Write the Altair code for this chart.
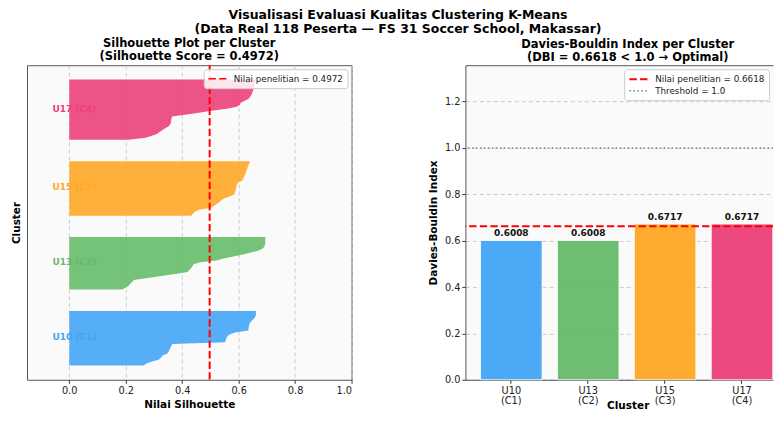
import altair as alt
import pandas as pd

# ---------------- data ----------------
clusters = ["U10 (C1)", "U13 (C2)", "U15 (C3)", "U17 (C4)"]
colors = ["#42A5F5", "#66BB6A", "#FFA726", "#EC407A"]

sil_c1 = [0.264, 0.273, 0.293, 0.316, 0.325, 0.329, 0.346, 0.352, 0.354, 0.358,
          0.361, 0.365, 0.552, 0.554, 0.556, 0.560, 0.569, 0.587, 0.634, 0.635,
          0.636, 0.638, 0.640, 0.647, 0.654, 0.659, 0.661, 0.661, 0.661]
sil_c2 = [0.187, 0.200, 0.210, 0.216, 0.223, 0.229, 0.278, 0.326, 0.375, 0.419,
          0.424, 0.431, 0.436, 0.440, 0.464, 0.522, 0.546, 0.581, 0.614, 0.640,
          0.669, 0.684, 0.691, 0.693, 0.694, 0.694, 0.694, 0.695]
sil_c3 = [0.432, 0.437, 0.445, 0.460, 0.500, 0.512, 0.522, 0.532, 0.540, 0.550,
          0.570, 0.585, 0.587, 0.589, 0.590, 0.592, 0.594, 0.598, 0.612, 0.616,
          0.619, 0.622, 0.625, 0.627, 0.630, 0.632, 0.635, 0.638, 0.640]
sil_c4 = [0.210, 0.270, 0.290, 0.310, 0.320, 0.330, 0.340, 0.352, 0.358, 0.360,
          0.361, 0.362, 0.364, 0.416, 0.464, 0.510, 0.558, 0.593, 0.605, 0.607,
          0.620, 0.634, 0.640, 0.645, 0.648, 0.650, 0.653, 0.655, 0.657, 0.658,
          0.660, 0.662]
sil_values = [sil_c1, sil_c2, sil_c3, sil_c4]

dbi_values = [0.6008, 0.6008, 0.6717, 0.6717]
sil_score = 0.4972
dbi_score = 0.6618
dbi_threshold = 1.0

sil_tick_values = [0.0, 0.2, 0.4, 0.6, 0.8, 1.0]
dbi_tick_values = [0.0, 0.2, 0.4, 0.6, 0.8, 1.0, 1.2]

FONT = "DejaVu Sans"
SPINE = "#555555"
PH = 315

# ---------------- build tables ----------------
rows, label_rows = [], []
y_lower = 10
for name, vals in zip(clusters, sil_values):
    svals = sorted(vals)
    for j, v in enumerate(svals):
        rows.append({"cluster": name, "pos": y_lower + j, "sil": v, "base": 0.0})
    label_rows.append({"cluster": name, "pos": y_lower + 0.5 * len(svals), "x": -0.06})
    y_lower += len(svals) + 10
sil_df = pd.DataFrame(rows)
lab_df = pd.DataFrame(label_rows)

sil_line_label = f"Nilai penelitian = {sil_score}"
sil_line_df = pd.DataFrame({"label": [sil_line_label], "val": [sil_score]})

dbi_df = pd.DataFrame({"cluster": clusters, "dbi": dbi_values,
                       "txt": [f"{v:.4f}" for v in dbi_values]})
dbi_line_labels = [f"Nilai penelitian = {dbi_score}", f"Threshold = {dbi_threshold}"]
dbi_line_df = pd.DataFrame({"label": dbi_line_labels, "val": [dbi_score, dbi_threshold]})

fill_scale = alt.Scale(domain=clusters, range=colors)

legend_kw = dict(
    title=None, orient="top-right", offset=4,
    fillColor="rgba(255,255,255,0.85)", strokeColor="#cccccc", cornerRadius=3,
    padding=4, symbolType="M-1,0L3,0", symbolSize=90, labelFont=FONT,
    labelFontSize=8.8, labelColor="#222222", labelOffset=15, rowPadding=1,
)

# ---------------- left panel ----------------
xs = alt.Scale(domain=[-0.15, 1.0], nice=False, zero=False)
ys = alt.Scale(domain=[2.65, 164.35], nice=False, zero=False)

sil_area = alt.Chart(sil_df).mark_area(orient="horizontal", opacity=0.9, interpolate="linear").encode(
    y=alt.Y("pos:Q", scale=ys,
            axis=alt.Axis(title="Cluster", labels=False, ticks=False, domain=False, grid=False,
                          titlePadding=5)),
    x=alt.X("sil:Q", scale=xs, stack=None,
            axis=alt.Axis(title="Nilai Silhouette", values=sil_tick_values, format=".1f",
                          grid=True, gridDash=[4, 3], gridColor="#cccccc", titlePadding=4,
                          labelPadding=2)),
    x2=alt.X2("base:Q"),
    fill=alt.Fill("cluster:N", scale=fill_scale, legend=None),
    detail="cluster:N",
)

sil_text = alt.Chart(lab_df).mark_text(align="left", baseline="middle", fontWeight="bold",
                                       fontSize=9, font=FONT).encode(
    x=alt.X("x:Q", scale=xs),
    y=alt.Y("pos:Q", scale=ys),
    text="cluster:N",
    fill=alt.Fill("cluster:N", scale=fill_scale, legend=None),
)

sil_rule = alt.Chart(sil_line_df).mark_rule(strokeWidth=2).encode(
    x=alt.X("val:Q", scale=xs),
    stroke=alt.Stroke("label:N", scale=alt.Scale(domain=[sil_line_label], range=["red"]),
                      legend=alt.Legend(**legend_kw)),
    strokeDash=alt.StrokeDash("label:N", scale=alt.Scale(domain=[sil_line_label], range=[[7.4, 3.2]]),
                              legend=alt.Legend(**legend_kw)),
)

left = alt.layer(sil_area, sil_text, sil_rule).properties(
    width=325, height=PH,
    title=alt.TitleParams(text=["Silhouette Plot per Cluster", "(Silhouette Score = 0.4972)"],
                          fontSize=11.5, fontWeight="bold", font=FONT, anchor="middle",
                          lineHeight=13, offset=2),
)

# ---------------- right panel ----------------
RW = 308
dys = alt.Scale(domain=[0, 1.357], nice=False, zero=True)
xband = alt.Scale(paddingInner=0.2, paddingOuter=0.1, align=0.985)

bars = alt.Chart(dbi_df).mark_bar(stroke="white", strokeWidth=0.8, opacity=0.95).encode(
    x=alt.X("cluster:N", sort=clusters, scale=xband,
            axis=alt.Axis(title="Cluster", labelAngle=0, labelExpr="split(datum.label, ' ')",
                          labelLineHeight=10.5, labelPadding=2, grid=False,
                          titleX=162.5, titleY=20.5,
                          domain=True, domainColor=SPINE, domainWidth=1)),
    y=alt.Y("dbi:Q", scale=dys,
            axis=alt.Axis(title="Davies-Bouldin Index", values=dbi_tick_values, format=".1f",
                          grid=True, gridDash=[4, 3], gridColor="#cccccc", titlePadding=6,
                          labelPadding=2, domain=True, domainColor=SPINE, domainWidth=1)),
    fill=alt.Fill("cluster:N", scale=fill_scale, legend=None),
)

bar_text = alt.Chart(dbi_df).mark_text(baseline="alphabetic", dy=-4.5, fontWeight="bold",
                                       fontSize=9, font=FONT, color="#111111").encode(
    x=alt.X("cluster:N", sort=clusters,
            axis=alt.Axis(orient="top", title=None, labels=False, ticks=False, grid=False,
                          domain=True, domainColor=SPINE, domainWidth=1)),
    y=alt.Y("dbi:Q", scale=dys),
    text="txt:N",
)

dbi_rules = alt.Chart(dbi_line_df).mark_rule().encode(
    y=alt.Y("val:Q", scale=dys),
    stroke=alt.Stroke("label:N", scale=alt.Scale(domain=dbi_line_labels, range=["red", "gray"]),
                      legend=alt.Legend(**legend_kw)),
    strokeDash=alt.StrokeDash("label:N", scale=alt.Scale(domain=dbi_line_labels,
                                                         range=[[7.4, 3.2], [1.5, 2.5]]),
                              legend=alt.Legend(**legend_kw)),
    strokeWidth=alt.StrokeWidth("label:N", scale=alt.Scale(domain=dbi_line_labels, range=[2, 1.5]),
                                legend=alt.Legend(**legend_kw)),
)

right = alt.layer(bars, bar_text, dbi_rules).resolve_axis(x="independent").properties(
    width=RW, height=PH,
    view=alt.ViewBackground(fill="#FAFAFA", stroke="transparent"),
    title=alt.TitleParams(text=["Davies-Bouldin Index per Cluster", "(DBI = 0.6618 < 1.0 → Optimal)"],
                          fontSize=11.5, fontWeight="bold", font=FONT, anchor="middle",
                          lineHeight=13, offset=2, dx=8.5),
)

chart = alt.hconcat(left, right, spacing=114, bounds="flush").resolve_scale(
    stroke="independent", strokeDash="independent", strokeWidth="independent",
    y="independent", x="independent",
).resolve_legend(
    stroke="independent", strokeDash="independent", strokeWidth="independent",
).properties(
    title=alt.TitleParams(
        text=["Visualisasi Evaluasi Kualitas Clustering K-Means",
              "(Data Real 118 Peserta — FS 31 Soccer School, Makassar)"],
        fontSize=12.5, fontWeight="bold", font=FONT, anchor="middle", lineHeight=14,
        offset=2, dx=5),
    padding={"left": 3, "top": 0, "right": 0, "bottom": 0},
).configure_view(
    fill="#FAFAFA", stroke=SPINE, strokeWidth=1,
).configure_axis(
    labelFont=FONT, labelFontSize=9.8, labelColor="#222222",
    titleFont=FONT, titleFontSize=10.5, titleFontWeight="bold", titleColor="#000000",
    tickColor="#333333", tickSize=3.5, domain=False,
).configure_title(color="#000000")

chart.save("out.html", embed_options={"renderer": "svg", "actions": False})
